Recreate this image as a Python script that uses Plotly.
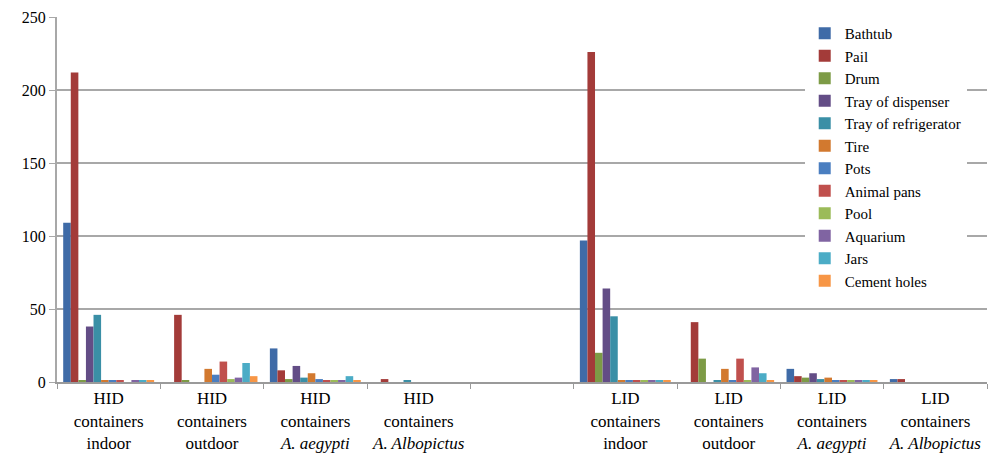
import plotly.graph_objects as go

categories = [
    "HID<br>containers<br>indoor",
    "HID<br>containers<br>outdoor",
    "HID<br>containers<br><i>A. aegypti</i>",
    "HID<br>containers<br><i>A. Albopictus</i>",
    "LID<br>containers<br>indoor",
    "LID<br>containers<br>outdoor",
    "LID<br>containers<br><i>A. aegypti</i>",
    "LID<br>containers<br><i>A. Albopictus</i>",
]
spacer = " "

series_names = ["Bathtub", "Pail", "Drum", "Tray of dispenser", "Tray of refrigerator",
                "Tire", "Pots", "Animal pans", "Pool", "Aquarium", "Jars", "Cement holes"]

bathtub       = [109, 0, 23, 0, 97, 0, 9, 2]
pail          = [212, 46, 8, 2, 226, 41, 4, 2]
drum          = [1, 1, 2, 0, 20, 16, 3, 0]
tray_disp     = [38, 0, 11, 0, 64, 0, 6, 0]
tray_refrig   = [46, 0, 3, 1, 45, 1, 2, 0]
tire          = [1, 9, 6, 0, 1, 9, 3, 0]
pots          = [1, 5, 2, 0, 1, 1, 1, 0]
animal_pans   = [1, 14, 1, 0, 1, 16, 1, 0]
pool          = [0, 2, 1, 0, 1, 1, 1, 0]
aquarium      = [1, 3, 1, 0, 1, 10, 1, 0]
jars          = [1, 13, 4, 0, 1, 6, 1, 0]
cement_holes  = [1, 4, 1, 0, 1, 1, 1, 0]

values = [bathtub, pail, drum, tray_disp, tray_refrig, tire, pots,
          animal_pans, pool, aquarium, jars, cement_holes]

colors = ["#3F6BA7", "#A33B39", "#7D9B46", "#634D86", "#3A8FA6", "#D2792F",
          "#4A7EC0", "#C0504D", "#9BBB59", "#8064A2", "#4BACC6", "#F79646"]

fig = go.Figure()
for name, vals, col in zip(series_names, values, colors):
    fig.add_trace(go.Bar(x=categories, y=vals, name=name, marker_color=col,
                         marker_line_width=0))

font_family = "Liberation Serif"

fig.update_layout(
    width=992, height=465,
    margin=dict(l=57, r=5, t=17, b=83, autoexpand=False),
    plot_bgcolor="white", paper_bgcolor="white",
    barmode="group", bargap=0.12, bargroupgap=0,
    font=dict(family=font_family, size=16, color="black"),
    showlegend=True,
    legend=dict(x=0.804, y=1.0, xanchor="left", yanchor="top",
                bgcolor="white", borderwidth=0,
                font=dict(family=font_family, size=15, color="black"),
                tracegroupgap=0, itemwidth=30),
    xaxis=dict(
        type="category",
        categoryorder="array",
        categoryarray=categories[:4] + [spacer] + categories[4:],
        showgrid=False, automargin=False,
        showline=True, linecolor="#9a9a9a", linewidth=2,
        ticks="outside", tickson="boundaries", ticklen=5, tickcolor="#9a9a9a",
        tickfont=dict(family=font_family, size=17, color="black"),
    ),
    yaxis=dict(
        range=[0, 250], dtick=50, automargin=False,
        showgrid=True, gridcolor="#a8a8a8", gridwidth=2,
        showline=True, linecolor="#a8a8a8", linewidth=2,
        ticks="outside", ticklen=6, tickcolor="#a8a8a8",
        tickfont=dict(family=font_family, size=16, color="black"),
        zeroline=False,
    ),
)

fig.write_html("out.html",
               config={"displayModeBar": False},
               post_script="document.body.style.margin='0px';document.body.style.overflow='hidden';")
